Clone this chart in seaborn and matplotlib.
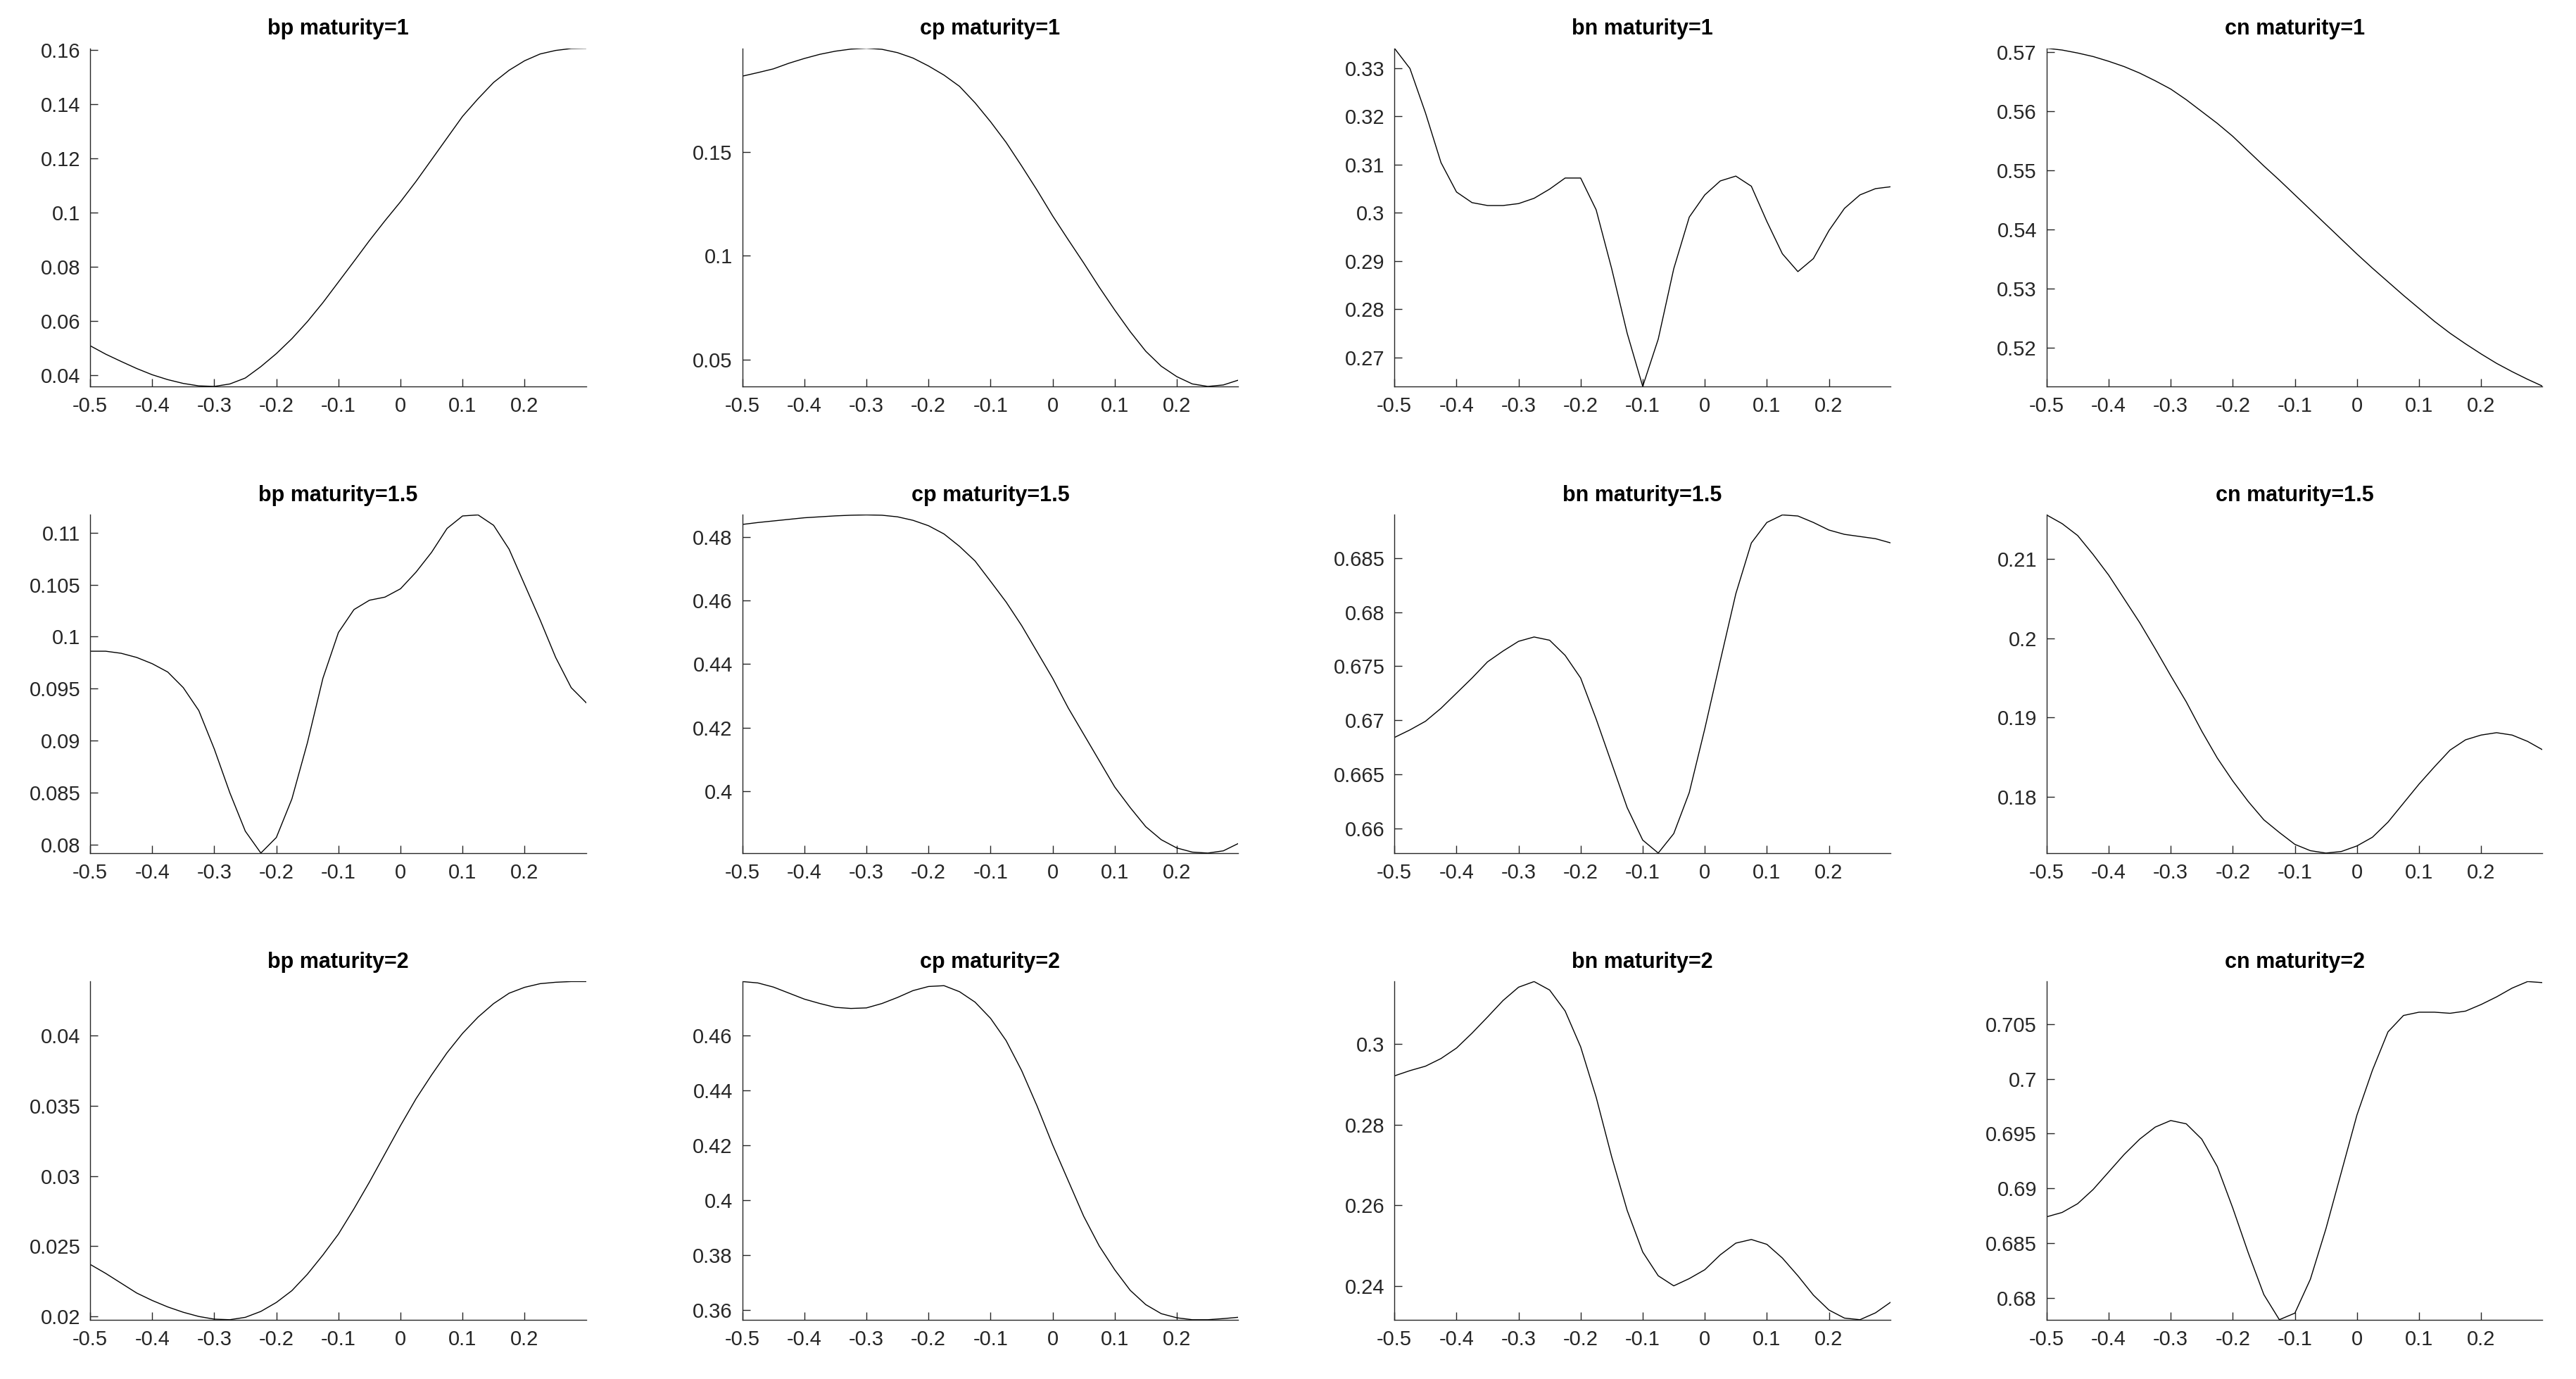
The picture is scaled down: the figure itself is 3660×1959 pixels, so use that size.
import numpy as np
import matplotlib
matplotlib.use("Agg")
import matplotlib.pyplot as plt
import seaborn as sns
from matplotlib.ticker import MultipleLocator, FormatStrFormatter

# strike grid shared by every panel
x = np.round(np.arange(-0.5, 0.3001, 0.025), 3)

names = ["bp", "cp", "bn", "cn"]
maturities = ["1", "1.5", "2"]

# maturity = 1
bp_1 = [0.0509, 0.0478, 0.0451, 0.0425, 0.0402, 0.0384, 0.0370, 0.0361, 0.0359, 0.0368,
        0.0390, 0.0432, 0.0480, 0.0535, 0.0598, 0.0668, 0.0744, 0.0820, 0.0897, 0.0970,
        0.1040, 0.1115, 0.1195, 0.1275, 0.1355, 0.1420, 0.1480, 0.1525, 0.1560, 0.1585,
        0.1598, 0.1605, 0.1606]
cp_1 = [0.1863, 0.1880, 0.1898, 0.1925, 0.1948, 0.1968, 0.1983, 0.1993, 0.1997, 0.1992,
        0.1976, 0.1950, 0.1912, 0.1868, 0.1814, 0.1735, 0.1644, 0.1545, 0.1432, 0.1315,
        0.1192, 0.1078, 0.0966, 0.0850, 0.0740, 0.0636, 0.0542, 0.0470, 0.0420, 0.0385,
        0.0373, 0.0380, 0.0404]
bn_1 = [0.3341, 0.3299, 0.3207, 0.3104, 0.3043, 0.3021, 0.3015, 0.3015, 0.3019, 0.3030,
        0.3049, 0.3072, 0.3072, 0.3006, 0.2884, 0.2750, 0.2640, 0.2738, 0.2884, 0.2991,
        0.3037, 0.3066, 0.3076, 0.3055, 0.2982, 0.2915, 0.2878, 0.2905, 0.2963, 0.3009,
        0.3037, 0.3050, 0.3054]
cn_1 = [0.5707, 0.5704, 0.5699, 0.5693, 0.5685, 0.5676, 0.5665, 0.5652, 0.5638, 0.5620,
        0.5600, 0.5580, 0.5558, 0.5533, 0.5508, 0.5484, 0.5459, 0.5434, 0.5409, 0.5384,
        0.5359, 0.5335, 0.5312, 0.5289, 0.5267, 0.5245, 0.5225, 0.5207, 0.5190, 0.5174,
        0.5160, 0.5147, 0.5135]

# maturity = 1.5
bp_15 = [0.0986, 0.0986, 0.0984, 0.0980, 0.0974, 0.0966, 0.0951, 0.0929, 0.0892, 0.0850,
         0.0813, 0.0792, 0.0807, 0.0844, 0.0898, 0.0960, 0.1004, 0.1026, 0.1035, 0.1038,
         0.1046, 0.1062, 0.1081, 0.1104, 0.1116, 0.1117, 0.1107, 0.1084, 0.1050, 0.1016,
         0.0980, 0.0951, 0.0936]
cp_15 = [0.4839, 0.4845, 0.4850, 0.4855, 0.4860, 0.4863, 0.4866, 0.4868, 0.4869, 0.4868,
         0.4863, 0.4852, 0.4835, 0.4809, 0.4770, 0.4724, 0.4660, 0.4595, 0.4521, 0.4438,
         0.4355, 0.4262, 0.4179, 0.4096, 0.4013, 0.3948, 0.3888, 0.3847, 0.3821, 0.3808,
         0.3805, 0.3812, 0.3836]
bn_15 = [0.6684, 0.6691, 0.6699, 0.6711, 0.6725, 0.6739, 0.6754, 0.6764, 0.6773, 0.6777,
         0.6774, 0.6760, 0.6739, 0.6701, 0.6660, 0.6619, 0.6589, 0.6577, 0.6595, 0.6633,
         0.6692, 0.6755, 0.6817, 0.6864, 0.6883, 0.6890, 0.6889, 0.6883, 0.6876, 0.6872,
         0.6870, 0.6868, 0.6864]
cn_15 = [0.2156, 0.2145, 0.2130, 0.2106, 0.2080, 0.2050, 0.2020, 0.1987, 0.1953, 0.1920,
         0.1883, 0.1849, 0.1820, 0.1794, 0.1771, 0.1755, 0.1740, 0.1732, 0.1729, 0.1731,
         0.1738, 0.1749, 0.1768, 0.1792, 0.1816, 0.1838, 0.1859, 0.1872, 0.1878, 0.1881,
         0.1878, 0.1870, 0.1859]

# maturity = 2
bp_2 = [0.02371, 0.02307, 0.02237, 0.02167, 0.02114, 0.02068, 0.02030, 0.02000, 0.01981, 0.01977,
        0.01994, 0.02036, 0.02100, 0.02184, 0.02301, 0.02438, 0.02587, 0.02767, 0.02958, 0.03159,
        0.03360, 0.03551, 0.03720, 0.03879, 0.04017, 0.04133, 0.04229, 0.04303, 0.04345, 0.04371,
        0.04381, 0.04386, 0.04386]
cp_2 = [0.4797, 0.4792, 0.4777, 0.4755, 0.4733, 0.4717, 0.4703, 0.4699, 0.4701, 0.4717,
        0.4739, 0.4764, 0.4779, 0.4782, 0.4760, 0.4722, 0.4663, 0.4582, 0.4473, 0.4343,
        0.4202, 0.4072, 0.3942, 0.3834, 0.3747, 0.3672, 0.3620, 0.3587, 0.3572, 0.3565,
        0.3565, 0.3569, 0.3574]
bn_2 = [0.2921, 0.2934, 0.2945, 0.2964, 0.2990, 0.3027, 0.3067, 0.3108, 0.3141, 0.3155,
        0.3134, 0.3082, 0.2993, 0.2868, 0.2720, 0.2587, 0.2484, 0.2425, 0.2400, 0.2418,
        0.2440, 0.2477, 0.2506, 0.2515, 0.2503, 0.2469, 0.2425, 0.2377, 0.2340, 0.2320,
        0.2316, 0.2333, 0.2360]
cn_2 = [0.6874, 0.6878, 0.6886, 0.6899, 0.6915, 0.6931, 0.6945, 0.6956, 0.6962, 0.6959,
        0.6945, 0.6920, 0.6882, 0.6841, 0.6803, 0.6780, 0.6786, 0.6817, 0.6863, 0.6915,
        0.6967, 0.7008, 0.7043, 0.7058, 0.7061, 0.7061, 0.7060, 0.7062, 0.7068, 0.7075,
        0.7083, 0.7089, 0.7088]

series = [[bp_1, cp_1, bn_1, cn_1],
          [bp_15, cp_15, bn_15, cn_15],
          [bp_2, cp_2, bn_2, cn_2]]

# y tick spacing used in each panel
ystep = [[0.02, 0.05, 0.01, 0.01],
         [0.005, 0.02, 0.005, 0.01],
         [0.005, 0.02, 0.02, 0.005]]

xticks = [-0.5, -0.4, -0.3, -0.2, -0.1, 0, 0.1, 0.2]

sns.set_theme(style="ticks")
plt.rcParams['font.family'] = ['Liberation Sans', 'DejaVu Sans']
plt.rcParams['xtick.direction'] = 'in'
plt.rcParams['ytick.direction'] = 'in'

fig, axes = plt.subplots(3, 4, figsize=(18.3, 9.795), dpi=200)
fig.subplots_adjust(left=0.035, right=0.987, bottom=0.043, top=0.965,
                    wspace=0.315, hspace=0.38)

grey = '#262626'
for r in range(3):
    for c in range(4):
        ax = axes[r, c]
        y = np.array(series[r][c])
        sns.lineplot(x=x, y=y, ax=ax, color='black', linewidth=0.5)
        ax.set_xlim(-0.5, 0.299)
        ax.set_ylim(y.min(), y.max())
        ax.set_xticks(xticks)
        ax.xaxis.set_major_formatter(FormatStrFormatter('%g'))
        ax.yaxis.set_major_locator(MultipleLocator(ystep[r][c]))
        ax.yaxis.set_major_formatter(FormatStrFormatter('%g'))
        ax.tick_params(labelsize=10.5, colors=grey, length=4, width=0.5, pad=5)
        for s in ['left', 'bottom']:
            ax.spines[s].set_color(grey)
            ax.spines[s].set_linewidth(0.5)
        sns.despine(ax=ax)
        ax.set_xlabel('')
        ax.set_ylabel('')
        ax.set_title(f"{names[c]} maturity={maturities[r]}", fontsize=11,
                     fontweight='bold', color='black', pad=7)

fig.savefig("out.png", dpi=200, facecolor='white')
